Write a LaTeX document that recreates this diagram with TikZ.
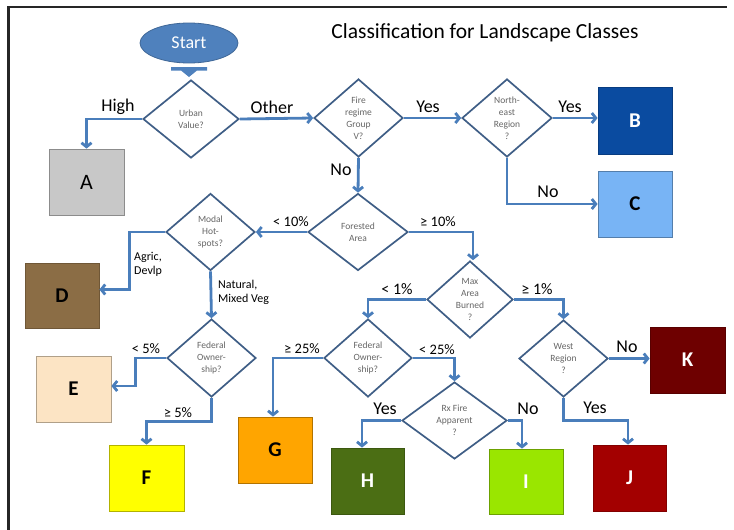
\documentclass[tikz,border=0pt]{standalone}
\usepackage{fontspec}
\setmainfont{Carlito}
\usetikzlibrary{shapes.geometric,arrows.meta}
\definecolor{arrowblue}{HTML}{4A7EBB}
\definecolor{diablue}{HTML}{3F5E86}
\definecolor{diatext}{HTML}{666666}
\definecolor{startblue}{HTML}{4F81BD}
\definecolor{cA}{HTML}{C8C8C8}
\definecolor{cB}{HTML}{0A4BA0}
\definecolor{cC}{HTML}{78B4F5}
\definecolor{cD}{HTML}{8B6D45}
\definecolor{cE}{HTML}{FCE4C4}
\definecolor{cF}{HTML}{FFFF00}
\definecolor{cG}{HTML}{FFA500}
\definecolor{cH}{HTML}{4B6E14}
\definecolor{cI}{HTML}{9AE600}
\definecolor{cJ}{HTML}{A30000}
\definecolor{cK}{HTML}{6E0000}
\begin{document}
\begin{tikzpicture}[x=1pt,y=-1pt,
  dia/.style={diamond, draw=diablue, fill=white, line width=1.7pt, inner sep=0pt, align=center,
    font=\fontsize{9.5}{12}\selectfont, text=diatext},
  box/.style={rectangle, inner sep=0pt, line width=0.8pt, font=\fontsize{21}{24}\selectfont\bfseries},
  arr/.style={draw=arrowblue, line width=2.8pt, -{Straight Barb[length=4pt,width=10pt]}},
  lab/.style={font=\fontsize{18}{20}\selectfont, inner sep=0pt},
  slab/.style={font=\fontsize{14.5}{16}\selectfont, inner sep=0pt},
  mlab/.style={font=\fontsize{16}{18}\selectfont, inner sep=0pt},
  tlab/.style={font=\fontsize{12}{14}\selectfont, inner sep=0pt, align=left, anchor=west},
]
\useasboundingbox (0,0) rectangle (734,530);
% frame
\draw[line width=2.5pt, draw=black!85] (8.5,530) -- (8.5,7) -- (727,7);
% title
\node[font=\fontsize{21.5}{24}\selectfont, inner sep=0pt] (title) at (485,33) {Classification for Landscape Classes};
% start
\node[ellipse, fill=startblue, draw=startblue!80!black, line width=0.8pt, minimum width=98pt, minimum height=40pt,
  text=white, font=\fontsize{18}{20}\selectfont, inner sep=0pt] (start) at (189,43) {Start};
\fill[startblue] (171,67) -- (207,67) -- (207,70.5) -- (197,70.5) -- (189,77) -- (181,70.5) -- (171,70.5) -- cycle;
% diamonds
\node[dia, minimum width=96pt, minimum height=78pt] (urban) at (191,119) {Urban\\Value?};
\node[dia, minimum width=89pt, minimum height=78pt] (fire) at (358.5,118) {Fire\\regime\\Group\\V?};
\node[dia, minimum width=90pt, minimum height=78pt] (ne) at (507,118) {North-\\east\\Region\\?};
\node[dia, minimum width=100pt, minimum height=77pt] (forest) at (358,232) {Forested\\Area};
\node[dia, minimum width=89pt, minimum height=77pt] (modal) at (210.5,232) {Modal\\Hot-\\spots?};
\node[dia, minimum width=86pt, minimum height=77pt] (max) at (470,299.5) {Max\\Area\\Burned\\?};
\node[dia, minimum width=89pt, minimum height=77pt] (west) at (563.5,358.5) {West\\Region\\?};
\node[dia, minimum width=89pt, minimum height=78pt] (fed1) at (211.5,358) {Federal\\Owner-\\ship?};
\node[dia, minimum width=88pt, minimum height=78pt] (fed2) at (368,358) {Federal\\Owner-\\ship?};
\node[dia, minimum width=105pt, minimum height=77pt] (rx) at (454.5,420.5) {Rx Fire\\Apparent\\?};
% boxes
\node[box, fill=cA, draw=cA!70!black, minimum width=75pt, minimum height=66pt, font=\fontsize{22}{24}\selectfont] (A) at (86.5,182) {A};
\node[box, fill=cB, draw=cB!80!black, minimum width=74pt, minimum height=67pt, text=white] (B) at (635,120.5) {B};
\node[box, fill=cC, draw=cC!70!black, minimum width=74pt, minimum height=66pt] (C) at (635,204) {C};
\node[box, fill=cD, draw=cD!80!black, minimum width=74pt, minimum height=65pt] (D) at (62,295.5) {D};
\node[box, fill=cE, draw=cE!70!black, minimum width=75pt, minimum height=66pt] (E) at (73.5,389) {E};
\node[box, fill=cF, draw=cF!70!black, minimum width=75pt, minimum height=66pt] (F) at (146.5,478) {F};
\node[box, fill=cG, draw=cG!70!black, minimum width=74pt, minimum height=66pt] (G) at (275,450) {G};
\node[box, fill=cH, draw=cH!80!black, minimum width=73pt, minimum height=66pt, text=white] (H) at (367.5,481) {H};
\node[box, fill=cI, draw=cI!70!black, minimum width=74pt, minimum height=65pt, text=white] (I) at (526,481.5) {I};
\node[box, fill=cJ, draw=cJ!80!black, minimum width=73pt, minimum height=66pt, text=white] (J) at (629.5,478) {J};
\node[box, fill=cK, draw=cK!80!black, minimum width=75pt, minimum height=66pt, text=white] (K) at (687.5,360) {K};
% connectors
\draw[arr] (urban.west) -| (A.north);
\draw[arr] (urban.east) -- (fire.west);
\draw[arr] (fire.east) -- (ne.west);
\draw[arr] (ne.east) -- (ne.east -| B.west);
\draw[arr] (ne.south) |- (C.west);
\draw[arr] (fire.south) -- (forest.north);
\draw[arr] (forest.west) -- (modal.east);
\draw[arr] (forest.east) -| ([xshift=3pt]max.north);
\draw[arr] (max.west) -| (fed2.north);
\draw[arr] (max.east) -| (west.north);
\draw[arr] (west.east) -- (west.east -| K.west);
\draw[arr] (west.south) |- ([xshift=-1.5pt,yshift=24pt]J.north) -- ([xshift=-1.5pt]J.north);
\draw[arr] (modal.west) -- ++(-36,0) |- ([yshift=6pt]D.east);
\draw[arr] (modal.south) -- (fed1.north);
\draw[arr] (fed1.west) -- ++(-31,0) |- ([yshift=3pt]E.east);
\draw[arr] (fed1.south) |- ([yshift=23pt]F.north) -- (F.north);
\draw[arr] (fed2.west) -| ([xshift=-2pt]G.north);
\draw[arr] (fed2.east) -| (rx.north);
\draw[arr] (rx.west) -| ([xshift=-5.5pt]H.north);
\draw[arr] (rx.east) -| ([xshift=-4pt]I.north);
% labels
\node[lab] (lHigh) at (118,107) {High};
\node[lab] (lOther) at (272,107) {Other};
\node[lab] (lYes1) at (428,107) {Yes};
\node[lab] (lYes2) at (570,107) {Yes};
\node[lab] (lNo1) at (548,192) {No};
\node[lab] (lNo2) at (341,170) {No};
\node[slab] (l10a) at (291,222) {< 10\%};
\node[slab] (l10b) at (438,222) {≥ 10\%};
\node[tlab] (lAgric) at (134,264) {Agric,\\Devlp};
\node[tlab] (lNat) at (218,292) {Natural,\\Mixed Veg};
\node[mlab] (l1a) at (397,289) {< 1\%};
\node[mlab] (l1b) at (537,289) {≥ 1\%};
\node[lab] (lNo3) at (627,347) {No};
\node[lab] (lYes3) at (595,408) {Yes};
\node[slab] (l5a) at (146,349) {< 5\%};
\node[slab] (l5b) at (178,413) {≥ 5\%};
\node[slab] (l25a) at (302,349) {≥ 25\%};
\node[slab] (l25b) at (437,350) {< 25\%};
\node[lab] (lYes4) at (385,409) {Yes};
\node[lab] (lNo4) at (528,409) {No};
\end{tikzpicture}
\end{document}
